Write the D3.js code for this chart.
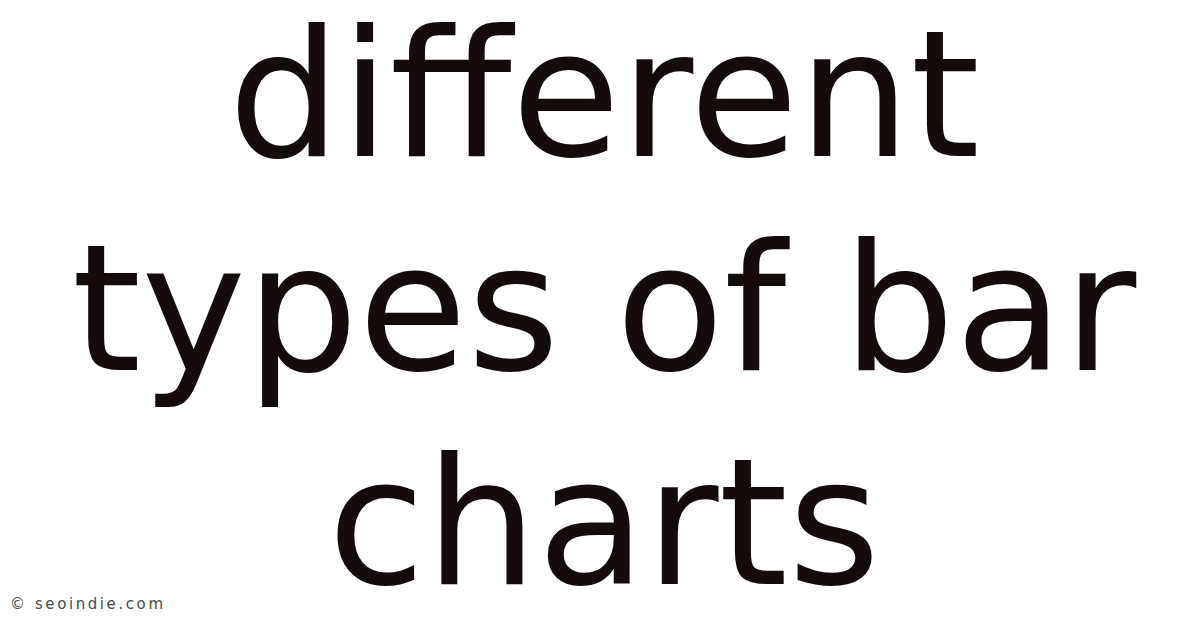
<!DOCTYPE html>
<html>
<head>
<meta charset="utf-8">
<script src="https://cdn.jsdelivr.net/npm/d3@7"></script>
<style>
  html, body { margin: 0; padding: 0; background: #fff; }
  svg { display: block; }
</style>
</head>
<body>
<div id="chart"></div>
<script>
'use strict';

// title text, one entry per line
var titleLines = ['different', 'types of bar', 'charts'];
// footer credit
var creditText = ['\u00a9 seoindie.com'];

var width = 1200,
    height = 628;

var svg = d3.select('#chart')
    .append('svg')
    .attr('width', width)
    .attr('height', height);

svg.append('rect')
    .attr('width', width)
    .attr('height', height)
    .attr('fill', '#ffffff');

//baseline of each line
var y = d3.scaleLinear()
    .domain([0, titleLines.length - 1])
    .range([156, 584]);

svg.append('g')
    .attr('class', 'title')
    .selectAll('text')
    .data(titleLines)
    .enter()
        .append('text')
        .attr('x', width / 2 + 4)
        .attr('y', function(d, i){ return y(i); })
        .attr('text-anchor', 'middle')
        .style('font-family', '"DejaVu Sans", Verdana, sans-serif')
        .style('font-size', '177px')
        .attr('fill', '#140b0b')
        .text(function(d){ return d; });

svg.append('g')
    .attr('class', 'credit')
    .selectAll('text')
    .data(creditText)
    .enter()
        .append('text')
        .attr('x', 10)
        .attr('y', 609)
        .attr('textLength', 153)
        .attr('lengthAdjust', 'spacing')
        .style('font-family', '"DejaVu Sans", Verdana, sans-serif')
        .style('font-size', '15px')
        .attr('fill', '#4a4a4a')
        .text(function(d){ return d; });
</script>
</body>
</html>
